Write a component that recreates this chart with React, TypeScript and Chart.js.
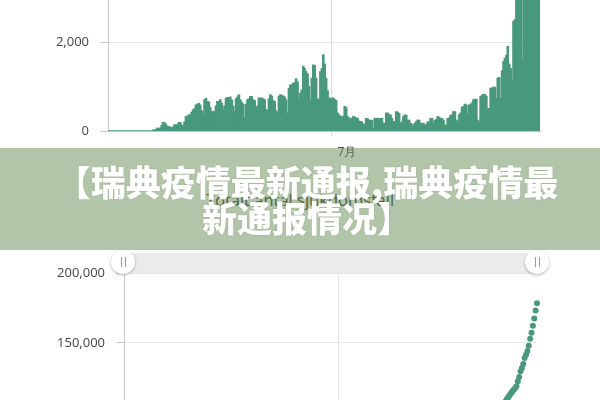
import React, { useEffect, useRef } from "react";
import { Chart, registerables } from "chart.js";

Chart.register(...registerables);

// ---- data ----
const START_YEAR = 2020;
const START_MONTH = 0; // January
const START_DAY = 27;

const MONTH_TICKS: Record<string, string> = { "2020-07-01": "7月" };

const TITLE_LINE_1 = "【瑞典疫情最新通报,瑞典疫情最";
const TITLE_LINE_2 = "新通报情况】";
const LOWER_TITLE = "Totalt antal sjukdomsfall";

const dailyCases: number[] = [
  0, 0, 0, 0, 0, 0, 0, 0, 0, 0, 0, 0, 0, 0, 0, 0, 0, 0, 0, 0, 0, 0, 0, 0, 0, 0, 0, 0, 0, 0, 0,
  20, 20, 30, 60, 60, 60, 120, 190, 180, 150,
  100, 100, 80, 75, 90, 135, 140, 135, 190, 190,
  130, 110, 200, 320, 330, 360, 360, 420, 470, 500,
  580, 600, 620, 580, 450, 360, 700, 730, 660, 650,
  520, 430, 430, 440, 560, 660, 660, 700, 620, 480,
  560, 730, 750, 740, 760, 690, 560, 440, 720, 760,
  810, 700, 640, 600, 285, 600, 700, 720, 770, 770,
  700, 680, 520, 560, 740, 730, 740, 720, 700, 480,
  450, 720, 810, 780, 680, 660, 450, 400, 780, 810,
  800, 780, 760, 700, 400, 960, 1030, 1040, 1070, 1080,
  1170, 1100, 720, 850, 920, 1450, 1400, 1330, 1280, 1000,
  700, 1180, 1480, 1470, 1180, 720, 700, 1330, 1400, 1710,
  1500, 1180, 900, 740, 730, 720, 740, 700, 680, 400,
  360, 330, 320, 330, 550, 520, 320, 290, 280, 280,
  320, 310, 290, 280, 220, 210, 200, 150, 150, 280,
  270, 240, 240, 230, 60, 280, 280, 280, 280, 280,
  280, 170, 170, 400, 400, 360, 360, 280, 210, 210,
  430, 420, 390, 180, 200, 320, 360, 350, 240, 240,
  170, 150, 100, 170, 210, 240, 240, 170, 170, 170,
  130, 140, 200, 200, 280, 280, 170, 240, 250, 320,
  310, 280, 280, 240, 130, 130, 280, 290, 350, 360,
  430, 430, 240, 200, 360, 400, 530, 550, 600, 580,
  380, 580, 600, 630, 700, 710, 710, 240, 200, 770,
  800, 820, 820, 780, 500, 500, 960, 960, 980, 980,
  730, 1180, 1200, 730, 1350, 1560, 1630, 1700, 1900, 1500,
  1400, 1110, 2460, 2500, 3600, 3700, 3900, 4000, 1610, 4500,
  4600, 4800, 5000, 4700, 4200, 4500, 5200, 5500, 5800, 6000, 5500,
];

const totalCases: number[] = [
  0, 0, 0, 0, 0, 0, 0, 0, 0, 0, 0, 0, 0, 0, 0, 0, 0, 0, 0, 0, 0, 0, 0, 0, 0, 0, 0, 0, 0, 0, 0,
  20, 30, 60, 110, 160, 200, 300, 460, 600, 730,
  810, 890, 960, 1020, 1090, 1200, 1320, 1430, 1580, 1740,
  1840, 1930, 2100, 2360, 2630, 2920, 3220, 3560, 3940, 4350,
  4820, 5320, 5820, 6300, 6660, 6960, 7530, 8130, 8660, 9200,
  9620, 9970, 10320, 10680, 11140, 11680, 12220, 12790, 13300, 13690,
  14150, 14740, 15360, 15960, 16580, 17150, 17600, 17960, 18550, 19170,
  19830, 20410, 20930, 21420, 21650, 22140, 22710, 23300, 23930, 24560,
  25130, 25690, 26110, 26570, 27170, 27770, 28370, 28960, 29540, 29930,
  30290, 30880, 31540, 32180, 32740, 33280, 33640, 33970, 34610, 35270,
  35920, 36560, 37180, 37750, 38080, 38870, 39710, 40560, 41430, 42310,
  43270, 44170, 44760, 45450, 46200, 47390, 48530, 49620, 50660, 51480,
  52050, 53020, 54220, 55430, 56390, 56980, 57550, 58640, 59780, 61180,
  62400, 63370, 64100, 64710, 65300, 65890, 66500, 67070, 67620, 67950,
  68240, 68510, 68780, 69050, 69490, 69920, 70180, 70420, 70650, 70880,
  71140, 71390, 71630, 71860, 72040, 72210, 72370, 72490, 72620, 72840,
  73060, 73260, 73460, 73640, 73690, 73920, 74150, 74380, 74610, 74840,
  75070, 75210, 75340, 75670, 76000, 76290, 76590, 76810, 76990, 77160,
  77510, 77850, 78170, 78320, 78480, 78740, 79040, 79320, 79520, 79720,
  79850, 79980, 80060, 80200, 80370, 80560, 80760, 80900, 81040, 81180,
  81280, 81400, 81560, 81730, 81950, 82180, 82320, 82520, 82720, 82980,
  83240, 83470, 83690, 83890, 84000, 84100, 84330, 84570, 84850, 85150,
  85500, 85850, 86050, 86210, 86500, 86830, 87260, 87710, 88200, 88680,
  88990, 89460, 89950, 90470, 91040, 91620, 92200, 92400, 92560, 93190,
  93840, 94510, 95180, 95820, 96230, 96640, 97420, 98200, 99000, 99810,
  100400, 101370, 102350, 102940, 104050, 105320, 106650, 108000, 109500, 111000,
  112500, 113800, 115200, 116300, 117500, 118800, 122500, 125500, 129700, 132000,
  134800, 139100, 141500, 144200, 147800, 152900, 157200, 162300, 167400, 173200, 178300,
];

const categories: string[] = dailyCases.map((_, i) =>
  new Date(Date.UTC(START_YEAR, START_MONTH, START_DAY + i)).toISOString().slice(0, 10)
);

const topYMax = 6000;
const topYStep = 2000;
const bottomYMax = 200000;
const bottomYStep = 50000;

// ---- styles ----
const GREEN = "#48997b";
const GRID = "#e6e6e6";
const AXIS = "#c6c6c6";
const TICK_TEXT = "#444444";
const FONT = "'Open Sans', 'Noto Sans', sans-serif";

const fmt = (v: number | string) => Number(v).toLocaleString("en-US");

export default function App() {
  const topRef = useRef<HTMLCanvasElement>(null);
  const botRef = useRef<HTMLCanvasElement>(null);

  useEffect(() => {
    const monthGrid = (color: string) => (ctx: any) =>
      MONTH_TICKS[categories[ctx.index]] ? color : "rgba(0,0,0,0)";

    const top = new Chart(topRef.current as HTMLCanvasElement, {
      type: "bar",
      data: {
        labels: categories,
        datasets: [
          {
            data: dailyCases,
            backgroundColor: GREEN,
            borderWidth: 0,
            barPercentage: 1,
            categoryPercentage: 1,
            inflateAmount: 0.6,
          } as any,
        ],
      },
      options: {
        responsive: false,
        animation: false,
        events: [],
        layout: { padding: { top: 20, right: 20, left: 0, bottom: 0 } },
        plugins: { legend: { display: false }, tooltip: { enabled: false }, title: { display: false } },
        scales: {
          x: {
            grid: { color: monthGrid("#dcdcdc"), offset: true, tickLength: 5 },
            border: { color: AXIS },
            ticks: {
              autoSkip: false,
              maxRotation: 0,
              minRotation: 0,
              padding: 9,
              labelOffset: 15,
              color: TICK_TEXT,
              font: { family: FONT, size: 12 },
              callback: (_v: any, i: number) => MONTH_TICKS[categories[i]] ?? "",
            },
            afterFit: (s: any) => {
              s.height = 29;
            },
          },
          y: {
            min: 0,
            max: topYMax,
            ticks: {
              stepSize: topYStep,
              padding: 11,
              color: TICK_TEXT,
              font: { family: FONT, size: 13 },
              callback: (v: any) => fmt(v),
            },
            grid: { color: GRID, tickLength: 8, tickColor: AXIS },
            border: { color: AXIS },
            afterFit: (s: any) => {
              s.width = 108;
            },
          },
        },
      },
    });

    const bottom = new Chart(botRef.current as HTMLCanvasElement, {
      type: "line",
      data: {
        labels: categories,
        datasets: [
          {
            data: totalCases,
            showLine: false,
            pointRadius: 3,
            pointBackgroundColor: GREEN,
            pointBorderWidth: 0,
            borderColor: GREEN,
          },
        ],
      },
      options: {
        responsive: false,
        animation: false,
        events: [],
        layout: { padding: { top: 20, right: 63, left: 0, bottom: 0 } },
        plugins: { legend: { display: false }, tooltip: { enabled: false } },
        scales: {
          x: {
            grid: { color: monthGrid("#e2e2e2"), tickLength: 0 },
            border: { display: false },
            ticks: { display: false, autoSkip: false },
            afterFit: (s: any) => {
              s.height = 0;
            },
          },
          y: {
            min: 0,
            max: bottomYMax,
            ticks: {
              stepSize: bottomYStep,
              padding: 11,
              color: TICK_TEXT,
              font: { family: FONT, size: 13 },
              callback: (v: any) => fmt(v),
            },
            grid: { color: GRID, tickLength: 8, tickColor: AXIS },
            border: { color: AXIS },
            afterFit: (s: any) => {
              s.width = 124;
            },
          },
        },
      },
    });

    return () => {
      top.destroy();
      bottom.destroy();
    };
  }, []);

  const handle = (left: number) => (
    <div
      style={{
        position: "absolute",
        left: left - 12,
        top: 250,
        width: 24,
        height: 24,
        borderRadius: 12,
        background: "#ffffff",
        boxShadow: "0 1px 3px rgba(0,0,0,0.3)",
        display: "flex",
        alignItems: "center",
        justifyContent: "center",
        gap: 3,
      }}
    >
      <div style={{ width: 1, height: 10, background: "#999" }} />
      <div style={{ width: 1, height: 10, background: "#999" }} />
    </div>
  );

  return (
    <div
      style={{
        position: "fixed",
        left: 0,
        top: 0,
        width: 600,
        height: 400,
        overflow: "hidden",
        background: "#ffffff",
      }}
    >
      <canvas
        ref={topRef}
        width={560}
        height={316}
        style={{ position: "absolute", left: 0, top: -156 }}
      />
      <div
        style={{
          position: "absolute",
          left: 0,
          width: 600,
          top: 190,
          textAlign: "center",
          fontFamily: FONT,
          fontSize: 16.5,
          color: "#333",
          lineHeight: "20px",
        }}
      >
        {LOWER_TITLE}
      </div>
      <canvas
        ref={botRef}
        width={600}
        height={318}
        style={{ position: "absolute", left: 0, top: 253 }}
      />
      <div
        style={{
          position: "absolute",
          left: 124,
          top: 253,
          width: 413,
          height: 19,
          background: "#ebebeb",
          boxShadow: "0 1px 1px rgba(0,0,0,0.08)",
        }}
      />
      {handle(123)}
      {handle(537)}
      <div
        style={{
          position: "absolute",
          left: 0,
          top: 148,
          width: 600,
          height: 102,
          background: "rgba(102,140,82,0.5)",
        }}
      />
      <div
        style={{
          position: "absolute",
          left: 7,
          top: 148,
          width: 600,
          height: 102,
          display: "flex",
          flexDirection: "column",
          justifyContent: "center",
          alignItems: "center",
          color: "#ffffff",
          fontFamily: "'Noto Sans CJK SC', sans-serif",
          fontWeight: 900,
          fontSize: 35,
          lineHeight: "36px",
          textShadow: "0 0 2px rgba(0,0,0,0.12)",
          paddingTop: 0,
          boxSizing: "border-box",
        }}
      >
        <div>{TITLE_LINE_1}</div>
        <div>{TITLE_LINE_2}</div>
      </div>
    </div>
  );
}
